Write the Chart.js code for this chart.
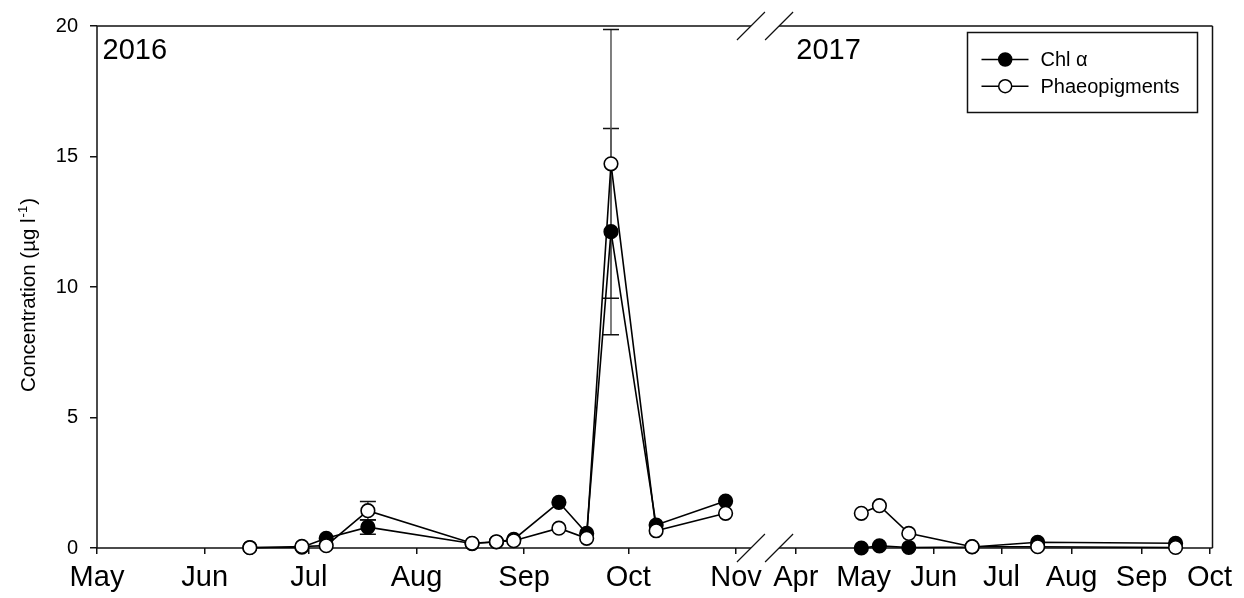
<!DOCTYPE html>
<html>
<head>
<meta charset="utf-8">
<script src="https://cdn.jsdelivr.net/npm/chart.js@4.4.1/dist/chart.umd.min.js"></script>
<style>
  html, body { margin: 0; padding: 0; background: #fff; }
  #wrap { width: 1244px; height: 598px; }
</style>
</head>
<body>
<div id="wrap"><canvas id="chart" width="1244" height="598"></canvas></div>
<script>
// Sampling dates (two field seasons) and pigment concentrations (µg l-1)
const sampleDates = [
  '2016-06-14', '2016-06-29', '2016-07-06', '2016-07-18', '2016-08-17', '2016-08-24',
  '2016-08-29', '2016-09-11', '2016-09-19', '2016-09-26', '2016-10-09', '2016-10-29',
  '2017-04-30', '2017-05-08', '2017-05-21', '2017-06-18', '2017-07-17', '2017-09-16'
];
const chlA = [
  0.02, 0.03, 0.37, 0.80, 0.17, 0.23,
  0.33, 1.75, 0.56, 12.12, 0.88, 1.80,
  0.00, 0.08, 0.02, 0.04, 0.22, 0.18
];
const chlASd = [
  0, 0, 0, 0.27, 0, 0,
  0, 0, 0, 3.95, 0, 0,
  0, 0, 0, 0, 0, 0
];
const phaeo = [
  0.01, 0.06, 0.09, 1.43, 0.18, 0.24,
  0.28, 0.76, 0.37, 14.72, 0.66, 1.33,
  1.33, 1.62, 0.56, 0.05, 0.05, 0.02
];
const phaeoSd = [
  0, 0, 0, 0.35, 0, 0,
  0, 0, 0, 5.15, 0, 0,
  0, 0, 0, 0, 0, 0
];

// Month ticks on the broken time axis
const monthTicks = [
  '2016-05-01', '2016-06-01', '2016-07-01', '2016-08-01', '2016-09-01', '2016-10-01', '2016-11-01',
  '2017-04-01', '2017-05-01', '2017-06-01', '2017-07-01', '2017-08-01', '2017-09-01', '2017-10-01'
];
const monthLabels = ['May', 'Jun', 'Jul', 'Aug', 'Sep', 'Oct', 'Nov', 'Apr', 'May', 'Jun', 'Jul', 'Aug', 'Sep', 'Oct'];
const yearLabels = ['2016', '2017'];
const seriesLabels = ['Chl \u03b1', 'Phaeopigments'];
const yTicks = [0, 5, 10, 15, 20];

// Broken axis: first season in days since 1 May 2016, second season compressed after the break
const SEG1_START = '2016-05-01';
const SEG2_START = '2017-04-01';
const SEG2_OFFSET = 201.2;
const SEG2_RATE = 0.651;
const AXIS_MAX = 321.2;
const BREAK_FROM = 188.3;
const BREAK_TO = 196.4;

const FONT = '"Liberation Sans", Arial, Helvetica, sans-serif';

function dayDiff(a, b) { return (Date.parse(b) - Date.parse(a)) / 86400000; }
function axisPos(d) {
  return d < SEG2_START ? dayDiff(SEG1_START, d) : SEG2_OFFSET + dayDiff(SEG2_START, d) * SEG2_RATE;
}
function seriesPoints(values) {
  const pts = [];
  sampleDates.forEach((d, i) => {
    if (i > 0 && d.slice(0, 4) !== sampleDates[i - 1].slice(0, 4)) {
      pts.push({ x: (BREAK_FROM + BREAK_TO) / 2, y: null });
    }
    pts.push({ x: axisPos(d), y: values[i] });
  });
  return pts;
}

// Axis frame with break marks on the top and bottom edges
const framePlugin = {
  id: 'frame',
  beforeDatasetsDraw(chart) {
    const { ctx, chartArea: a, scales: { x } } = chart;
    const b0 = x.getPixelForValue(BREAK_FROM), b1 = x.getPixelForValue(BREAK_TO);
    ctx.save();
    ctx.strokeStyle = '#111';
    ctx.lineWidth = 1.5;
    ctx.beginPath();
    ctx.moveTo(a.left, a.top); ctx.lineTo(a.left, a.bottom);
    ctx.moveTo(a.right, a.top); ctx.lineTo(a.right, a.bottom);
    [a.top, a.bottom].forEach(yy => {
      ctx.moveTo(a.left, yy); ctx.lineTo(b0, yy);
      ctx.moveTo(b1, yy); ctx.lineTo(a.right, yy);
    });
    ctx.stroke();
    ctx.lineWidth = 1.2;
    ctx.beginPath();
    [a.top, a.bottom].forEach(yy => {
      [b0, b1].forEach(xx => {
        ctx.moveTo(xx - 14, yy + 14); ctx.lineTo(xx + 14, yy - 14);
      });
    });
    ctx.stroke();
    ctx.restore();
  }
};

// Standard deviation whiskers
const errorBarPlugin = {
  id: 'errorBars',
  beforeDatasetsDraw(chart) {
    const { ctx, scales: { x, y } } = chart;
    const sets = [[chlA, chlASd], [phaeo, phaeoSd]];
    ctx.save();
    sets.forEach(([vals, sds]) => {
      sampleDates.forEach((d, i) => {
        if (!sds[i]) return;
        const px = x.getPixelForValue(axisPos(d));
        const yHi = y.getPixelForValue(vals[i] + sds[i]);
        const yLo = y.getPixelForValue(vals[i] - sds[i]);
        ctx.strokeStyle = '#555';
        ctx.lineWidth = 1.5;
        ctx.beginPath();
        ctx.moveTo(px, yHi); ctx.lineTo(px, yLo);
        ctx.stroke();
        ctx.strokeStyle = '#111';
        ctx.beginPath();
        ctx.moveTo(px - 8, yHi); ctx.lineTo(px + 8, yHi);
        ctx.moveTo(px - 8, yLo); ctx.lineTo(px + 8, yLo);
        ctx.stroke();
      });
    });
    ctx.restore();
  }
};

// Y title with superscript, year labels and legend
const annotationPlugin = {
  id: 'annotations',
  afterDraw(chart) {
    const { ctx, chartArea: a, scales: { x } } = chart;
    ctx.save();
    ctx.fillStyle = '#000';

    // Y axis title
    const main = 'Concentration (\u00b5g l', sup = '-1', tail = ')';
    ctx.font = '20.5px ' + FONT;
    const wMain = ctx.measureText(main).width, wTail = ctx.measureText(tail).width;
    ctx.font = '13px ' + FONT;
    const wSup = ctx.measureText(sup).width;
    const total = wMain + wSup + wTail + 2;
    ctx.translate(35, (a.top + a.bottom) / 2 + 8);
    ctx.rotate(-Math.PI / 2);
    ctx.textBaseline = 'alphabetic';
    ctx.textAlign = 'left';
    let cx = -total / 2;
    ctx.font = '20.5px ' + FONT;
    ctx.fillText(main, cx, 0); cx += wMain + 1;
    ctx.font = '13px ' + FONT;
    ctx.fillText(sup, cx, -8); cx += wSup + 1;
    ctx.font = '20.5px ' + FONT;
    ctx.fillText(tail, cx, 0);
    ctx.setTransform(1, 0, 0, 1, 0, 0);

    // Season labels
    ctx.font = '29px ' + FONT;
    ctx.textBaseline = 'alphabetic';
    ctx.fillText(yearLabels[0], a.left + 5.5, a.top + 32.5);
    ctx.fillText(yearLabels[1], x.getPixelForValue(axisPos(SEG2_START)) + 0.5, a.top + 32.5);

    // Legend
    const bx = a.right - 245, by = a.top + 6.5, bw = 230, bh = 80;
    ctx.fillStyle = '#fff';
    ctx.fillRect(bx, by, bw, bh);
    ctx.strokeStyle = '#111';
    ctx.lineWidth = 1.5;
    ctx.strokeRect(bx, by, bw, bh);
    const fills = ['#000', '#fff'];
    seriesLabels.forEach((lab, i) => {
      const ry = by + 27 + i * 26.7;
      ctx.strokeStyle = '#000';
      ctx.lineWidth = 1.5;
      ctx.beginPath();
      ctx.moveTo(bx + 14, ry); ctx.lineTo(bx + 61, ry);
      ctx.stroke();
      ctx.beginPath();
      ctx.arc(bx + 37.7, ry, 6.5, 0, Math.PI * 2);
      ctx.fillStyle = fills[i];
      ctx.fill();
      ctx.stroke();
      ctx.fillStyle = '#000';
      ctx.font = '20px ' + FONT;
      ctx.textBaseline = 'middle';
      ctx.fillText(lab, bx + 73, ry + 1);
    });
    ctx.restore();
  }
};

const pointStyle = { pointRadius: 6.8, pointHoverRadius: 6.8, pointBorderWidth: 1.6, pointBorderColor: '#000' };

new Chart(document.getElementById('chart'), {
  type: 'line',
  data: {
    datasets: [
      Object.assign({
        label: seriesLabels[0],
        data: seriesPoints(chlA),
        borderColor: '#000',
        borderWidth: 1.6,
        pointBackgroundColor: '#000',
        spanGaps: false,
        clip: false,
        order: 2
      }, pointStyle),
      Object.assign({
        label: seriesLabels[1],
        data: seriesPoints(phaeo),
        borderColor: '#000',
        borderWidth: 1.6,
        pointBackgroundColor: '#fff',
        spanGaps: false,
        clip: false,
        order: 1
      }, pointStyle)
    ]
  },
  options: {
    responsive: false,
    animation: false,
    devicePixelRatio: 1,
    layout: { padding: { top: 26, right: 31.5, left: 0, bottom: 0 } },
    plugins: { legend: { display: false }, tooltip: { enabled: false } },
    elements: { line: { tension: 0 } },
    scales: {
      x: {
        type: 'linear',
        min: 0,
        max: AXIS_MAX,
        afterBuildTicks(s) { s.ticks = monthTicks.map(d => ({ value: axisPos(d) })); },
        afterFit(s) { s.height = 50; },
        ticks: {
          autoSkip: false,
          maxRotation: 0,
          minRotation: 0,
          padding: 7,
          color: '#000',
          font: { family: FONT, size: 29 },
          callback: (v, i) => monthLabels[i]
        },
        grid: { display: true, drawOnChartArea: false, drawTicks: true, tickLength: 6, color: '#111', lineWidth: 1.5 },
        border: { display: false }
      },
      y: {
        min: 0,
        max: 20,
        afterBuildTicks(s) { s.ticks = yTicks.map(v => ({ value: v })); },
        afterFit(s) { s.width = 97; },
        ticks: {
          padding: 12,
          color: '#000',
          font: { family: FONT, size: 20 },
          callback: v => String(v)
        },
        grid: { display: true, drawOnChartArea: false, drawTicks: true, tickLength: 7, color: '#111', lineWidth: 1.5 },
        border: { display: false }
      }
    }
  },
  plugins: [framePlugin, errorBarPlugin, annotationPlugin]
});
</script>
</body>
</html>
